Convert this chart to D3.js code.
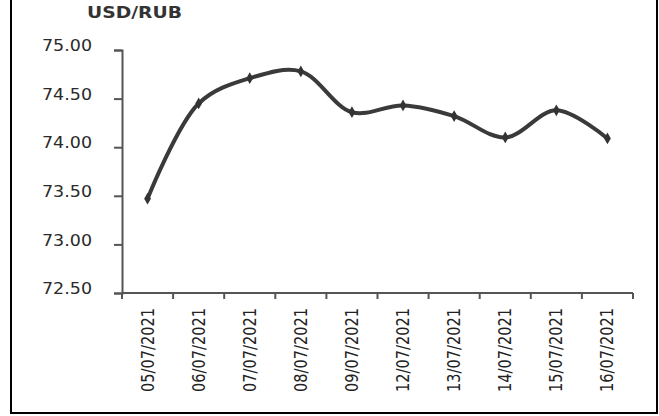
<!DOCTYPE html>
<html>
<head>
<meta charset="utf-8">
<script src="https://cdn.jsdelivr.net/npm/d3@7"></script>
<style>
  body { margin: 0; background: #fff; }
</style>
</head>
<body>
<div id="chart"></div>
<script>
var dates = ["05/07/2021", "06/07/2021", "07/07/2021", "08/07/2021", "09/07/2021", "12/07/2021", "13/07/2021", "14/07/2021", "15/07/2021", "16/07/2021"];
var rates = [73.47, 74.45, 74.71, 74.78, 74.36, 74.43, 74.32, 74.10, 74.38, 74.09];
var yTicks = [72.5, 73.0, 73.5, 74.0, 74.5, 75.0];

var width = 659, height = 416;
var margin = { top: 50, right: 26, bottom: 123, left: 122 };

var svg = d3.select("#chart").append("svg")
    .attr("width", width).attr("height", height);

// outer frame
svg.append("rect")
    .attr("x", 11).attr("y", -5)
    .attr("width", 646).attr("height", 418)
    .attr("fill", "none").attr("stroke", "#000").attr("stroke-width", 2);

var g = svg.append("g").attr("transform", "translate(" + margin.left + "," + margin.top + ")");
var w = width - margin.left - margin.right, h = height - margin.top - margin.bottom;

var x = d3.scaleBand().domain(dates).range([0, w]);
var y = d3.scaleLinear().domain([72.5, 75]).range([h, 0]);

// y axis
var yAxis = g.append("g")
    .call(d3.axisLeft(y).tickValues(yTicks).tickFormat(d3.format(".2f")).tickSize(8).tickPadding(22));
yAxis.select(".domain").attr("stroke", "#555").attr("stroke-width", 2);
yAxis.selectAll(".tick line").attr("stroke", "#555").attr("stroke-width", 2);
yAxis.selectAll(".tick text")
    .attr("fill", "#2a2a2a")
    .style("font-family", "DejaVu Sans")
    .style("font-size", "15px")
    .attr("textLength", 50)
    .attr("lengthAdjust", "spacingAndGlyphs")
    .attr("dy", "0.05em");

// x axis: ticks on band edges
var xAxis = g.append("g").attr("transform", "translate(0," + h + ")");
xAxis.append("line")
    .attr("x1", 0).attr("x2", w)
    .attr("stroke", "#555").attr("stroke-width", 2);
var edges = dates.map(function(d) { return x(d); }).concat([w]);
xAxis.selectAll(".xt").data(edges).enter().append("line")
    .attr("x1", function(d) { return d; }).attr("x2", function(d) { return d; })
    .attr("y1", 0).attr("y2", 6)
    .attr("stroke", "#555").attr("stroke-width", 2);
xAxis.selectAll(".xl").data(dates).enter().append("text")
    .attr("transform", function(d) { return "translate(" + (x(d) + x.bandwidth() / 2 + 6) + ",15) rotate(-90)"; })
    .attr("text-anchor", "end")
    .attr("fill", "#222")
    .style("font-family", "DejaVu Sans Condensed")
    .style("font-size", "18px")
    .attr("textLength", 84)
    .attr("lengthAdjust", "spacingAndGlyphs")
    .text(function(d) { return d; });

// title
svg.append("text")
    .attr("x", 87).attr("y", 18)
    .attr("fill", "#333")
    .style("font-family", "DejaVu Sans")
    .style("font-weight", "bold")
    .style("font-size", "15px")
    .attr("textLength", 95)
    .attr("lengthAdjust", "spacingAndGlyphs")
    .text("USD/RUB");

// line
var line = d3.line()
    .x(function(d, i) { return x(dates[i]) + x.bandwidth() / 2; })
    .y(function(d) { return y(d); })
    .curve(d3.curveCatmullRom.alpha(0.5));

g.append("path").datum(rates)
    .attr("d", line)
    .attr("fill", "none")
    .attr("stroke", "#3a3a3a")
    .attr("stroke-width", 4)
    .attr("stroke-linejoin", "round");

g.selectAll(".pt").data(rates).enter().append("path")
    .attr("transform", function(d, i) { return "translate(" + (x(dates[i]) + x.bandwidth() / 2) + "," + y(d) + ")"; })
    .attr("d", d3.symbol().type(d3.symbolDiamond).size(40))
    .attr("fill", "#333");
</script>
</body>
</html>
